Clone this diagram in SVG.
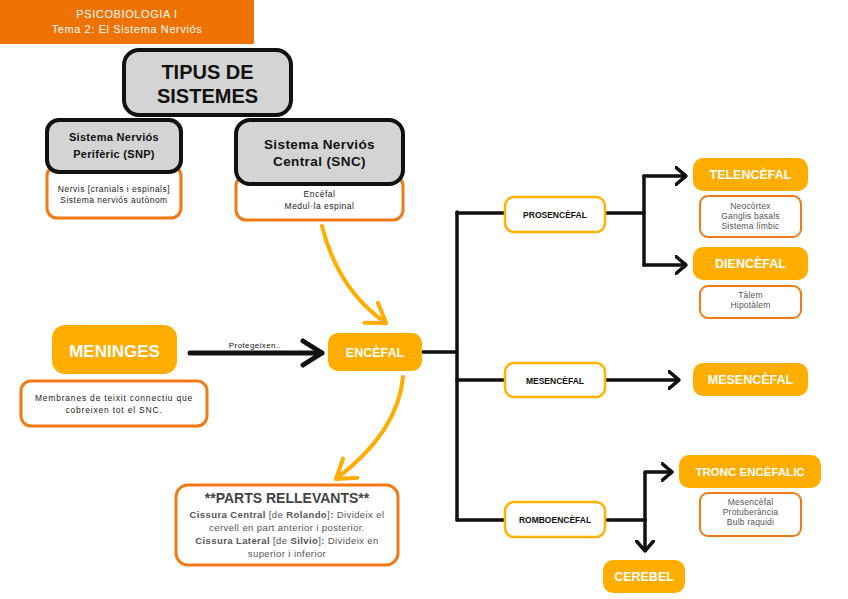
<svg xmlns="http://www.w3.org/2000/svg" width="848" height="599" viewBox="0 0 848 599">
<defs>
<style>
.grey{fill:#d4d4d4;stroke:#111;stroke-width:4}
.desc{fill:#fff;stroke:#f07a14;stroke-width:3}
.amb{fill:#ffae00;stroke:#ffae00;stroke-width:2}
.sub{fill:#fff;stroke:#ffb300;stroke-width:2.5}
.line{fill:none;stroke:#111;stroke-width:3.5;stroke-linecap:round;stroke-linejoin:round}
.yl{fill:none;stroke:#ffae00;stroke-width:4;stroke-linecap:round}
text{font-family:"Liberation Sans",Arial,sans-serif;text-anchor:middle}
.bt{font-weight:bold;fill:#111}
.wt{font-weight:bold;fill:#fff}
.sm{fill:#222;font-size:8.5px;letter-spacing:0.5px}
.gr{fill:#555;font-size:8.5px;letter-spacing:0.2px}
.pt{font-size:9.5px;fill:#555;letter-spacing:0.4px}
</style>
<marker id="ah" viewBox="0 0 12 20" refX="11" refY="10" markerWidth="12" markerHeight="20" markerUnits="userSpaceOnUse" orient="auto">
<path d="M1,1.5 L11,10 L1,18.5" fill="none" stroke="#111" stroke-width="3.5" stroke-linecap="round" stroke-linejoin="round"/>
</marker>
<marker id="ahb" viewBox="0 0 24 30" refX="22" refY="15" markerWidth="24" markerHeight="30" markerUnits="userSpaceOnUse" orient="auto">
<path d="M3,3 L22,15 L3,27" fill="none" stroke="#111" stroke-width="5" stroke-linecap="round" stroke-linejoin="round"/>
</marker>
<marker id="ay" viewBox="0 0 24 30" refX="21" refY="15" markerWidth="24" markerHeight="30" markerUnits="userSpaceOnUse" orient="auto">
<path d="M3,3 L21,15 L3,27" fill="none" stroke="#ffae00" stroke-width="4" stroke-linecap="round" stroke-linejoin="round"/>
</marker>
</defs>
<rect width="848" height="599" fill="#fff"/>

<g id="header">
<rect x="0" y="0" width="254" height="44" fill="#ef7204"/>
<text x="127" y="18" style="fill:#fff;font-size:11px;letter-spacing:0.6px">PSICOBIOLOGIA I</text>
<text x="127" y="33" style="fill:#fff;font-size:11px;letter-spacing:0.6px">Tema 2: El Sistema Nerviós</text>
</g>

<g id="connectors">
<path class="yl" d="M322,226 Q338,290 386,323" marker-end="url(#ay)"/>
<path class="yl" d="M403,377 Q398,432 336,479" marker-end="url(#ay)"/>
<path class="line" d="M190,353 L322,353" style="stroke-width:5" marker-end="url(#ahb)"/>
<text x="255" y="348" style="font-size:8px;fill:#111;letter-spacing:0.4px">Protegeixen..</text>
<path class="line" d="M421,352 L457,352"/>
<path class="line" d="M457,212 L457,520"/>
<path class="line" d="M457,213 L505,213"/>
<path class="line" d="M457,380 L505,380"/>
<path class="line" d="M457,520 L505,520"/>
<path class="line" d="M605,213 L644,213"/>
<path class="line" d="M644,176 L644,265"/>
<path class="line" d="M644,176 L686,176" marker-end="url(#ah)"/>
<path class="line" d="M644,265 L686,265" marker-end="url(#ah)"/>
<path class="line" d="M605,380 L679,380" marker-end="url(#ah)"/>
<path class="line" d="M605,520 L645,520"/>
<path class="line" d="M645,520 L645,472 L672,472" marker-end="url(#ah)"/>
<path class="line" d="M645,520 L645,551" marker-end="url(#ah)"/>
</g>

<g id="tipus">
<rect class="grey" x="124" y="50" width="167" height="65" rx="15"/>
<text class="bt" x="207.5" y="79" style="font-size:20px">TIPUS DE</text>
<text class="bt" x="207.5" y="103" style="font-size:20px">SISTEMES</text>
</g>

<g id="snp">
<rect class="desc" x="47" y="166" width="134" height="52" rx="10"/>
<rect class="grey" x="47" y="120" width="134" height="52" rx="12"/>
<text class="bt" x="114" y="141" style="font-size:11px;letter-spacing:0.3px">Sistema Nerviós</text>
<text class="bt" x="114" y="158" style="font-size:11px;letter-spacing:0.3px">Perifèric (SNP)</text>
<text class="sm" x="114" y="192">Nervis [cranials i espinals]</text>
<text class="sm" x="114" y="203">Sistema nerviós autònom</text>
</g>

<g id="snc">
<rect class="desc" x="236" y="176" width="167" height="44" rx="10"/>
<rect class="grey" x="236" y="120" width="167" height="64" rx="14"/>
<text class="bt" x="319.5" y="149" style="font-size:13.5px;letter-spacing:0.4px">Sistema Nerviós</text>
<text class="bt" x="319.5" y="166" style="font-size:13.5px;letter-spacing:0.4px">Central (SNC)</text>
<text class="sm" x="319.5" y="197">Encèfal</text>
<text class="sm" x="319.5" y="209">Medul·la espinal</text>
</g>

<g id="meninges">
<rect class="amb" x="53" y="326" width="123" height="47" rx="12"/>
<text class="wt" x="114.5" y="357" style="font-size:17px">MENINGES</text>
<rect class="desc" x="21" y="381" width="186" height="45" rx="10"/>
<text class="sm" x="114" y="401" style="letter-spacing:0.8px">Membranes de teixit connectiu que</text>
<text class="sm" x="114" y="413" style="letter-spacing:0.8px">cobreixen tot el SNC.</text>
</g>

<g id="encefal">
<rect class="amb" x="329" y="334" width="92" height="36" rx="9"/>
<text class="wt" x="375" y="357" style="font-size:12.5px">ENCÈFAL</text>
</g>

<g id="parts">
<rect class="desc" x="176" y="485" width="222" height="80" rx="12"/>
<text x="287" y="503" style="font-size:14px;font-weight:bold;fill:#444">**PARTS RELLEVANTS**</text>
<text class="pt" x="287" y="518"><tspan font-weight="bold">Cissura Central</tspan> [de <tspan font-weight="bold">Rolando</tspan>]<tspan font-weight="bold">:</tspan> Divideix el</text>
<text class="pt" x="287" y="531">cervell en part anterior i posterior.</text>
<text class="pt" x="287" y="544"><tspan font-weight="bold">Cissura Lateral</tspan> [de <tspan font-weight="bold">Silvio</tspan>]<tspan font-weight="bold">:</tspan> Divideix en</text>
<text class="pt" x="287" y="557">superior i inferior</text>
</g>

<g id="prosencefal">
<rect class="sub" x="505" y="197" width="100" height="35" rx="9"/>
<text class="bt" x="555" y="218" style="font-size:8.5px">PROSENCÈFAL</text>
</g>

<g id="mesencefal-sub">
<rect class="sub" x="505" y="363" width="100" height="34" rx="9"/>
<text class="bt" x="555" y="384" style="font-size:8.5px">MESENCÈFAL</text>
</g>

<g id="romboencefal">
<rect class="sub" x="505" y="502" width="100" height="35" rx="9"/>
<text class="bt" x="555" y="523" style="font-size:8.5px">ROMBOENCÈFAL</text>
</g>

<g id="telencefal">
<rect class="amb" x="694" y="159" width="113" height="31" rx="9"/>
<text class="wt" x="750.5" y="179" style="font-size:12.5px">TELENCÈFAL</text>
<rect class="desc" x="700" y="196" width="101" height="41" rx="8" style="stroke-width:2"/>
<text class="gr" x="750.5" y="209">Neocòrtex</text>
<text class="gr" x="750.5" y="219">Ganglis basals</text>
<text class="gr" x="750.5" y="229">Sistema límbic</text>
</g>

<g id="diencefal">
<rect class="amb" x="694" y="248" width="113" height="31" rx="9"/>
<text class="wt" x="750.5" y="268" style="font-size:12.5px">DIENCÈFAL</text>
<rect class="desc" x="700" y="286" width="101" height="32" rx="8" style="stroke-width:2"/>
<text class="gr" x="750.5" y="298">Tàlem</text>
<text class="gr" x="750.5" y="308">Hipotàlem</text>
</g>

<g id="mesencefal">
<rect class="amb" x="694" y="364" width="113" height="31" rx="9"/>
<text class="wt" x="750.5" y="384" style="font-size:12.5px">MESENCÈFAL</text>
</g>

<g id="tronc">
<rect class="amb" x="680" y="456" width="140" height="31" rx="9"/>
<text class="wt" x="750" y="476" style="font-size:11.5px">TRONC ENCÈFALIC</text>
<rect class="desc" x="700" y="493" width="101" height="43" rx="8" style="stroke-width:2"/>
<text class="gr" x="750.5" y="505">Mesencèfal</text>
<text class="gr" x="750.5" y="515">Protuberància</text>
<text class="gr" x="750.5" y="525">Bulb raquidi</text>
</g>

<g id="cerebel">
<rect class="amb" x="604" y="561" width="80" height="31" rx="9"/>
<text class="wt" x="644" y="581" style="font-size:12.5px">CEREBEL</text>
</g>
</svg>
